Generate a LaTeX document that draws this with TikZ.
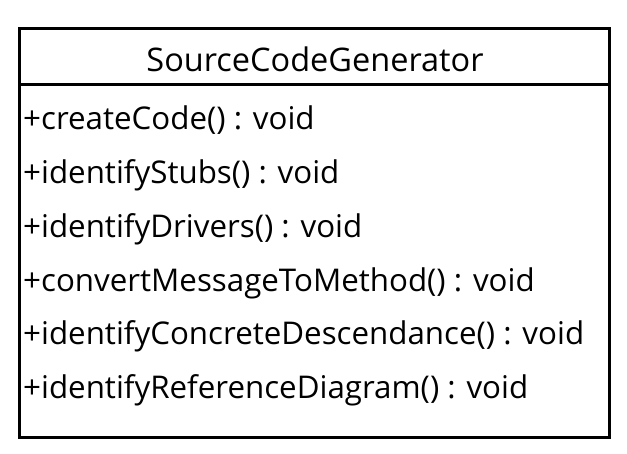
\documentclass[tikz,border=0pt]{standalone}
\usepackage{fontspec}
\setmainfont{Open Sans}
\begin{document}
\begin{tikzpicture}[x=1pt,y=-1pt,
  frame/.style={draw=black,line width=3pt},
  title/.style={font=\fontsize{32.5}{36}\selectfont,anchor=base,inner sep=0pt},
  member/.style={font=\fontsize{31.3}{34}\selectfont,anchor=base west,inner sep=0pt}]
  \useasboundingbox (0,0) rectangle (627,453);
  % class box with header compartment
  \draw[frame] (19,28) rectangle (609,437);
  \draw[frame] (19,84) -- (609,84);
  \node[title] (name) at (315,71) {SourceCodeGenerator};
  % operations
  \node[member] (m1) at (23,129) {+createCode() : void};
  \node[member] (m2) at (23,183) {+identifyStubs() : void};
  \node[member] (m3) at (23,237) {+identifyDrivers() : void};
  \node[member] (m4) at (23,291) {+convertMessageToMethod() : void};
  \node[member] (m5) at (23,344) {+identifyConcreteDescendance() : void};
  \node[member] (m6) at (23,398) {+identifyReferenceDiagram() : void};
\end{tikzpicture}
\end{document}
